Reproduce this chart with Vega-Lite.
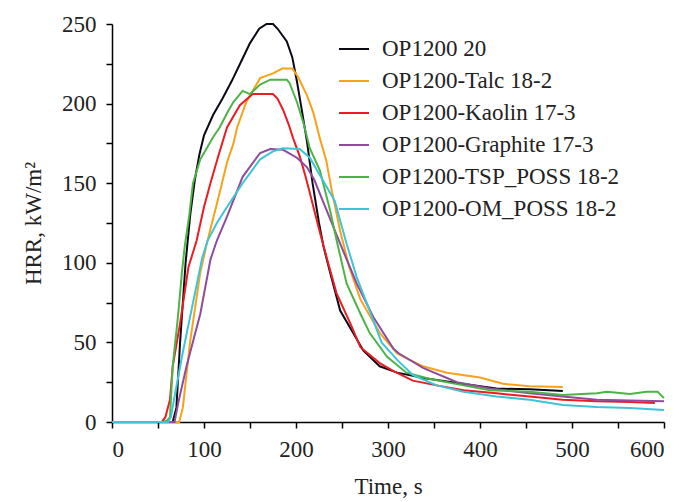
{
  "$schema": "https://vega.github.io/schema/vega-lite/v6.json",
  "width": 552,
  "height": 398,
  "autosize": "none",
  "padding": {"left": 112, "top": 24, "right": 15, "bottom": 80},
  "view": {"stroke": null},
  "data": {"values": [
    {"s":"OP1200 20","t":0,"v":0},{"s":"OP1200 20","t":66,"v":0},{"s":"OP1200 20","t":70,"v":9},{"s":"OP1200 20","t":74,"v":50},{"s":"OP1200 20","t":80,"v":100},{"s":"OP1200 20","t":85,"v":130},{"s":"OP1200 20","t":90,"v":152},{"s":"OP1200 20","t":95,"v":168},{"s":"OP1200 20","t":100,"v":180},{"s":"OP1200 20","t":110,"v":193},{"s":"OP1200 20","t":120,"v":203},{"s":"OP1200 20","t":130,"v":214},{"s":"OP1200 20","t":140,"v":226},{"s":"OP1200 20","t":150,"v":238},{"s":"OP1200 20","t":160,"v":247},{"s":"OP1200 20","t":168,"v":250},{"s":"OP1200 20","t":175,"v":250},{"s":"OP1200 20","t":180,"v":247},{"s":"OP1200 20","t":190,"v":239},{"s":"OP1200 20","t":196,"v":229},{"s":"OP1200 20","t":201,"v":214},{"s":"OP1200 20","t":206,"v":197},{"s":"OP1200 20","t":212,"v":176},{"s":"OP1200 20","t":218,"v":150},{"s":"OP1200 20","t":225,"v":125},{"s":"OP1200 20","t":230,"v":110},{"s":"OP1200 20","t":237,"v":94},{"s":"OP1200 20","t":248,"v":70},{"s":"OP1200 20","t":262,"v":56},{"s":"OP1200 20","t":273,"v":45},{"s":"OP1200 20","t":291,"v":35},{"s":"OP1200 20","t":310,"v":31},{"s":"OP1200 20","t":340,"v":27.5},{"s":"OP1200 20","t":375,"v":24.5},{"s":"OP1200 20","t":418,"v":21},{"s":"OP1200 20","t":454,"v":20.5},{"s":"OP1200 20","t":490,"v":19.5},
    {"s":"OP1200-Talc 18-2","t":0,"v":0},{"s":"OP1200-Talc 18-2","t":73,"v":0},{"s":"OP1200-Talc 18-2","t":77,"v":9},{"s":"OP1200-Talc 18-2","t":85,"v":51},{"s":"OP1200-Talc 18-2","t":96,"v":94},{"s":"OP1200-Talc 18-2","t":103,"v":112},{"s":"OP1200-Talc 18-2","t":117,"v":144},{"s":"OP1200-Talc 18-2","t":125,"v":163},{"s":"OP1200-Talc 18-2","t":132,"v":175},{"s":"OP1200-Talc 18-2","t":136,"v":185},{"s":"OP1200-Talc 18-2","t":146,"v":201},{"s":"OP1200-Talc 18-2","t":161,"v":216},{"s":"OP1200-Talc 18-2","t":175,"v":219},{"s":"OP1200-Talc 18-2","t":185,"v":222},{"s":"OP1200-Talc 18-2","t":196,"v":222},{"s":"OP1200-Talc 18-2","t":202,"v":217},{"s":"OP1200-Talc 18-2","t":212,"v":205},{"s":"OP1200-Talc 18-2","t":219,"v":194},{"s":"OP1200-Talc 18-2","t":226,"v":178},{"s":"OP1200-Talc 18-2","t":233,"v":164},{"s":"OP1200-Talc 18-2","t":239,"v":145},{"s":"OP1200-Talc 18-2","t":248,"v":120},{"s":"OP1200-Talc 18-2","t":258,"v":97},{"s":"OP1200-Talc 18-2","t":270,"v":77},{"s":"OP1200-Talc 18-2","t":291,"v":56},{"s":"OP1200-Talc 18-2","t":310,"v":43},{"s":"OP1200-Talc 18-2","t":338,"v":35},{"s":"OP1200-Talc 18-2","t":364,"v":31},{"s":"OP1200-Talc 18-2","t":400,"v":28},{"s":"OP1200-Talc 18-2","t":425,"v":24},{"s":"OP1200-Talc 18-2","t":454,"v":22.5},{"s":"OP1200-Talc 18-2","t":490,"v":22},
    {"s":"OP1200-Kaolin 17-3","t":0,"v":0},{"s":"OP1200-Kaolin 17-3","t":54,"v":0},{"s":"OP1200-Kaolin 17-3","t":58,"v":3},{"s":"OP1200-Kaolin 17-3","t":63,"v":14},{"s":"OP1200-Kaolin 17-3","t":66,"v":35},{"s":"OP1200-Kaolin 17-3","t":74,"v":62},{"s":"OP1200-Kaolin 17-3","t":83,"v":97},{"s":"OP1200-Kaolin 17-3","t":92,"v":114},{"s":"OP1200-Kaolin 17-3","t":100,"v":135},{"s":"OP1200-Kaolin 17-3","t":107,"v":150},{"s":"OP1200-Kaolin 17-3","t":115,"v":166},{"s":"OP1200-Kaolin 17-3","t":125,"v":185},{"s":"OP1200-Kaolin 17-3","t":139,"v":199},{"s":"OP1200-Kaolin 17-3","t":153,"v":206},{"s":"OP1200-Kaolin 17-3","t":175,"v":206},{"s":"OP1200-Kaolin 17-3","t":180,"v":203},{"s":"OP1200-Kaolin 17-3","t":186,"v":196},{"s":"OP1200-Kaolin 17-3","t":192,"v":187},{"s":"OP1200-Kaolin 17-3","t":197,"v":178},{"s":"OP1200-Kaolin 17-3","t":204,"v":167},{"s":"OP1200-Kaolin 17-3","t":210,"v":155},{"s":"OP1200-Kaolin 17-3","t":215,"v":144},{"s":"OP1200-Kaolin 17-3","t":226,"v":119},{"s":"OP1200-Kaolin 17-3","t":233,"v":104},{"s":"OP1200-Kaolin 17-3","t":244,"v":81},{"s":"OP1200-Kaolin 17-3","t":259,"v":62},{"s":"OP1200-Kaolin 17-3","t":270,"v":47},{"s":"OP1200-Kaolin 17-3","t":291,"v":37},{"s":"OP1200-Kaolin 17-3","t":306,"v":32},{"s":"OP1200-Kaolin 17-3","t":327,"v":26},{"s":"OP1200-Kaolin 17-3","t":353,"v":23},{"s":"OP1200-Kaolin 17-3","t":382,"v":20},{"s":"OP1200-Kaolin 17-3","t":418,"v":18},{"s":"OP1200-Kaolin 17-3","t":454,"v":16},{"s":"OP1200-Kaolin 17-3","t":490,"v":14},{"s":"OP1200-Kaolin 17-3","t":527,"v":13},{"s":"OP1200-Kaolin 17-3","t":563,"v":12.6},{"s":"OP1200-Kaolin 17-3","t":590,"v":12},
    {"s":"OP1200-Graphite 17-3","t":0,"v":0},{"s":"OP1200-Graphite 17-3","t":68,"v":0},{"s":"OP1200-Graphite 17-3","t":72,"v":12},{"s":"OP1200-Graphite 17-3","t":81,"v":35},{"s":"OP1200-Graphite 17-3","t":96,"v":68},{"s":"OP1200-Graphite 17-3","t":107,"v":102},{"s":"OP1200-Graphite 17-3","t":114,"v":114},{"s":"OP1200-Graphite 17-3","t":125,"v":129},{"s":"OP1200-Graphite 17-3","t":142,"v":154},{"s":"OP1200-Graphite 17-3","t":161,"v":169},{"s":"OP1200-Graphite 17-3","t":172,"v":171.5},{"s":"OP1200-Graphite 17-3","t":186,"v":171},{"s":"OP1200-Graphite 17-3","t":201,"v":166},{"s":"OP1200-Graphite 17-3","t":212,"v":160},{"s":"OP1200-Graphite 17-3","t":220,"v":152},{"s":"OP1200-Graphite 17-3","t":229,"v":139},{"s":"OP1200-Graphite 17-3","t":248,"v":112},{"s":"OP1200-Graphite 17-3","t":266,"v":87},{"s":"OP1200-Graphite 17-3","t":284,"v":66},{"s":"OP1200-Graphite 17-3","t":306,"v":46},{"s":"OP1200-Graphite 17-3","t":312,"v":43},{"s":"OP1200-Graphite 17-3","t":338,"v":34},{"s":"OP1200-Graphite 17-3","t":375,"v":25},{"s":"OP1200-Graphite 17-3","t":411,"v":21},{"s":"OP1200-Graphite 17-3","t":454,"v":18},{"s":"OP1200-Graphite 17-3","t":490,"v":16},{"s":"OP1200-Graphite 17-3","t":527,"v":14},{"s":"OP1200-Graphite 17-3","t":600,"v":13},
    {"s":"OP1200-TSP_POSS 18-2","t":0,"v":0},{"s":"OP1200-TSP_POSS 18-2","t":55,"v":0},{"s":"OP1200-TSP_POSS 18-2","t":60,"v":1},{"s":"OP1200-TSP_POSS 18-2","t":63,"v":3},{"s":"OP1200-TSP_POSS 18-2","t":66,"v":35},{"s":"OP1200-TSP_POSS 18-2","t":72,"v":68},{"s":"OP1200-TSP_POSS 18-2","t":76,"v":94},{"s":"OP1200-TSP_POSS 18-2","t":79,"v":110},{"s":"OP1200-TSP_POSS 18-2","t":84,"v":130},{"s":"OP1200-TSP_POSS 18-2","t":88,"v":150},{"s":"OP1200-TSP_POSS 18-2","t":96,"v":165},{"s":"OP1200-TSP_POSS 18-2","t":103,"v":172},{"s":"OP1200-TSP_POSS 18-2","t":110,"v":179},{"s":"OP1200-TSP_POSS 18-2","t":117,"v":185},{"s":"OP1200-TSP_POSS 18-2","t":126,"v":195},{"s":"OP1200-TSP_POSS 18-2","t":132,"v":201},{"s":"OP1200-TSP_POSS 18-2","t":142,"v":208},{"s":"OP1200-TSP_POSS 18-2","t":150,"v":206},{"s":"OP1200-TSP_POSS 18-2","t":161,"v":212},{"s":"OP1200-TSP_POSS 18-2","t":172,"v":215},{"s":"OP1200-TSP_POSS 18-2","t":190,"v":215},{"s":"OP1200-TSP_POSS 18-2","t":193,"v":213},{"s":"OP1200-TSP_POSS 18-2","t":201,"v":201},{"s":"OP1200-TSP_POSS 18-2","t":208,"v":188},{"s":"OP1200-TSP_POSS 18-2","t":215,"v":172},{"s":"OP1200-TSP_POSS 18-2","t":226,"v":158},{"s":"OP1200-TSP_POSS 18-2","t":237,"v":133},{"s":"OP1200-TSP_POSS 18-2","t":245,"v":112},{"s":"OP1200-TSP_POSS 18-2","t":255,"v":87},{"s":"OP1200-TSP_POSS 18-2","t":270,"v":68},{"s":"OP1200-TSP_POSS 18-2","t":280,"v":56},{"s":"OP1200-TSP_POSS 18-2","t":299,"v":41},{"s":"OP1200-TSP_POSS 18-2","t":320,"v":31},{"s":"OP1200-TSP_POSS 18-2","t":346,"v":27},{"s":"OP1200-TSP_POSS 18-2","t":382,"v":23},{"s":"OP1200-TSP_POSS 18-2","t":411,"v":20},{"s":"OP1200-TSP_POSS 18-2","t":454,"v":19},{"s":"OP1200-TSP_POSS 18-2","t":490,"v":17},{"s":"OP1200-TSP_POSS 18-2","t":527,"v":18},{"s":"OP1200-TSP_POSS 18-2","t":538,"v":19},{"s":"OP1200-TSP_POSS 18-2","t":563,"v":17.6},{"s":"OP1200-TSP_POSS 18-2","t":581,"v":19},{"s":"OP1200-TSP_POSS 18-2","t":593,"v":19},{"s":"OP1200-TSP_POSS 18-2","t":600,"v":15},
    {"s":"OP1200-OM_POSS 18-2","t":0,"v":0},{"s":"OP1200-OM_POSS 18-2","t":61,"v":0},{"s":"OP1200-OM_POSS 18-2","t":64,"v":3},{"s":"OP1200-OM_POSS 18-2","t":68,"v":16},{"s":"OP1200-OM_POSS 18-2","t":76,"v":41},{"s":"OP1200-OM_POSS 18-2","t":87,"v":72},{"s":"OP1200-OM_POSS 18-2","t":98,"v":103},{"s":"OP1200-OM_POSS 18-2","t":104,"v":114},{"s":"OP1200-OM_POSS 18-2","t":114,"v":125},{"s":"OP1200-OM_POSS 18-2","t":125,"v":135},{"s":"OP1200-OM_POSS 18-2","t":142,"v":150},{"s":"OP1200-OM_POSS 18-2","t":161,"v":165},{"s":"OP1200-OM_POSS 18-2","t":175,"v":170},{"s":"OP1200-OM_POSS 18-2","t":186,"v":172},{"s":"OP1200-OM_POSS 18-2","t":204,"v":171.5},{"s":"OP1200-OM_POSS 18-2","t":215,"v":166},{"s":"OP1200-OM_POSS 18-2","t":229,"v":152},{"s":"OP1200-OM_POSS 18-2","t":242,"v":139},{"s":"OP1200-OM_POSS 18-2","t":255,"v":112},{"s":"OP1200-OM_POSS 18-2","t":266,"v":91},{"s":"OP1200-OM_POSS 18-2","t":280,"v":70},{"s":"OP1200-OM_POSS 18-2","t":293,"v":50},{"s":"OP1200-OM_POSS 18-2","t":310,"v":39},{"s":"OP1200-OM_POSS 18-2","t":327,"v":29.5},{"s":"OP1200-OM_POSS 18-2","t":353,"v":23},{"s":"OP1200-OM_POSS 18-2","t":382,"v":19},{"s":"OP1200-OM_POSS 18-2","t":418,"v":16},{"s":"OP1200-OM_POSS 18-2","t":454,"v":14},{"s":"OP1200-OM_POSS 18-2","t":490,"v":10.7},{"s":"OP1200-OM_POSS 18-2","t":527,"v":9.4},{"s":"OP1200-OM_POSS 18-2","t":563,"v":8.8},{"s":"OP1200-OM_POSS 18-2","t":600,"v":7.5}
  ]},
  "mark": {"type": "line", "strokeWidth": 2},
  "encoding": {
    "x": {"field": "t", "type": "quantitative", "scale": {"domain": [0, 600], "nice": false},
      "axis": {"grid": false, "domainColor": "black", "domainWidth": 1.5, "tickColor": "black", "tickWidth": 1.5, "tickSize": 6, "values": [0,50,100,150,200,250,300,350,400,450,500,550,600], "labelExpr": "datum.value % 100 == 0 ? datum.label : ''", "labelPadding": 10, "labelFont": "Liberation Serif", "labelFontSize": 23, "labelColor": "#222", "title": "Time, s", "titleFont": "Liberation Serif", "titleFontSize": 23, "titleFontWeight": "normal", "titleColor": "#222", "titlePadding": 14}},
    "y": {"field": "v", "type": "quantitative", "scale": {"domain": [0, 250], "nice": false},
      "axis": {"grid": false, "domainColor": "black", "domainWidth": 1.5, "tickColor": "black", "tickWidth": 1.5, "tickSize": 6, "values": [0,25,50,75,100,125,150,175,200,225,250], "labelExpr": "datum.value % 50 == 0 ? datum.label : ''", "labelPadding": 10, "labelFont": "Liberation Serif", "labelFontSize": 23, "labelColor": "#222", "title": "HRR, kW/m²", "titleFont": "Liberation Serif", "titleFontSize": 23, "titleFontWeight": "normal", "titleColor": "#222", "titlePadding": 16}},
    "color": {"field": "s", "type": "nominal", "sort": null,
      "scale": {"domain": ["OP1200 20","OP1200-Talc 18-2","OP1200-Kaolin 17-3","OP1200-Graphite 17-3","OP1200-TSP_POSS 18-2","OP1200-OM_POSS 18-2"],
        "range": ["#0a0a14","#f7a21b","#ec1c24","#8f4c9e","#4cb447","#3fc4d6"]},
      "legend": {"title": null, "orient": "none", "legendX": 226, "legendY": 9, "symbolType": "stroke", "symbolSize": 900, "symbolStrokeWidth": 2, "rowPadding": 4, "labelOffset": 12, "labelLimit": 0, "labelFont": "Liberation Serif", "labelFontSize": 23, "labelColor": "#222"}}
  }
}
